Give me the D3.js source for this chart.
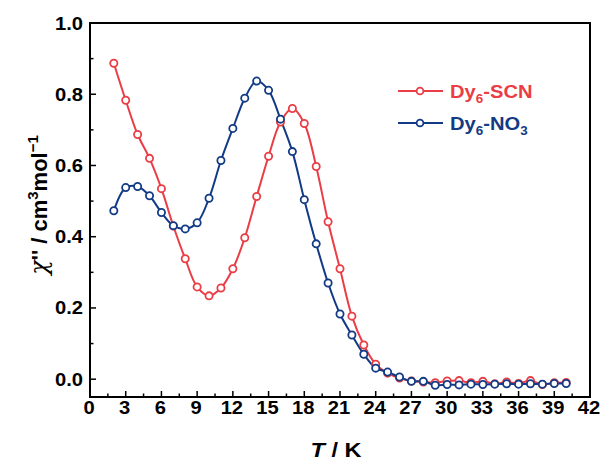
<!DOCTYPE html>
<html><head><meta charset="utf-8">
<script src="https://cdn.jsdelivr.net/npm/d3@7"></script>
<style>body{margin:0;background:#fff}svg{display:block}</style>
</head><body>
<svg id="c" width="603" height="461"></svg>
<script>
const temps = [2,3,4,5,6,7,8,9,10,11,12,13,14,15,16,17,18,19,20,21,22,23,24,25,26,27,28,29,30,31,32,33,34,35,36,37,38,39,40];
const scnValues = [0.887,0.783,0.687,0.620,0.535,0.430,0.338,0.259,0.234,0.256,0.310,0.397,0.513,0.626,0.722,0.760,0.718,0.597,0.442,0.310,0.177,0.096,0.042,0.017,0.003,-0.005,-0.008,-0.010,-0.005,-0.004,-0.010,-0.006,-0.013,-0.008,-0.012,-0.004,-0.015,-0.010,-0.009];
const no3Values = [0.473,0.538,0.541,0.515,0.468,0.431,0.422,0.439,0.508,0.614,0.704,0.789,0.837,0.811,0.730,0.639,0.504,0.380,0.270,0.183,0.124,0.070,0.031,0.020,0.006,-0.006,-0.006,-0.017,-0.015,-0.016,-0.014,-0.015,-0.014,-0.013,-0.014,-0.013,-0.014,-0.012,-0.012];
const xTicks = [0,3,6,9,12,15,18,21,24,27,30,33,36,39,42];
const yTicks = [0.0,0.2,0.4,0.6,0.8,1.0];
const seriesNames = ["Dy6-SCN","Dy6-NO3"];

const red = "#ea3d45", blue = "#123a85";
const svg = d3.select("#c");
const L = 90, R = 590, T = 23, B = 397;
const x = d3.scaleLinear().domain([0,42]).range([L,R]);
const y = d3.scaleLinear().domain([-0.05,1.0]).range([B,T]);
const font = "'Liberation Sans', Arial, sans-serif";
const SX = 1.12;

// minor ticks
const g = svg.append("g");
const xMinor = d3.range(0, 42.01, 1.5);
g.selectAll(".xm").data(xMinor).enter().append("line")
  .attr("x1", d=>x(d)).attr("x2", d=>x(d)).attr("y1", B).attr("y2", d=> (Math.abs(d/3-Math.round(d/3))<1e-6) ? B-6 : B-3.5)
  .attr("stroke","#000").attr("stroke-width",1.5);
const yMinor = d3.range(0, 1.001, 0.1);
g.selectAll(".ym").data(yMinor).enter().append("line")
  .attr("y1", d=>y(d)).attr("y2", d=>y(d)).attr("x1", L).attr("x2", (d,i)=> i%2===0 ? L+6 : L+3.5)
  .attr("stroke","#000").attr("stroke-width",1.5);

// frame
svg.append("rect").attr("x",L).attr("y",T).attr("width",R-L).attr("height",B-T)
  .attr("fill","none").attr("stroke","#000").attr("stroke-width",2);

// tick labels
svg.selectAll(".xl").data(xTicks).enter().append("text")
  .attr("transform", d=>`translate(${x(d)-1},${B+17}) scale(${SX},1)`).attr("text-anchor","middle")
  .attr("font-family",font).attr("font-weight","bold").attr("font-size",18).text(d=>d);
svg.selectAll(".yl").data(yTicks).enter().append("text")
  .attr("transform", d=>`translate(${L-7},${y(d)+6.5}) scale(${SX},1)`).attr("text-anchor","end")
  .attr("font-family",font).attr("font-weight","bold").attr("font-size",18).text(d=>d.toFixed(1));

// axis titles
const xt = svg.append("text").attr("transform",`translate(${(L+R)/2-4},457) scale(${SX},1)`).attr("text-anchor","middle")
  .attr("font-family",font).attr("font-weight","bold").attr("font-size",21);
xt.append("tspan").attr("font-style","italic").text("T");
xt.append("tspan").text(" / K");

const yt = svg.append("text").attr("transform",`translate(47,205) rotate(-90)`).attr("text-anchor","middle")
  .attr("font-family",font).attr("font-weight","bold").attr("font-size",22);
yt.append("tspan").attr("font-style","italic").attr("font-family","'DejaVu Serif', serif").attr("font-weight","normal").attr("font-size",24).text("χ");
yt.append("tspan").text("'' / cm");
yt.append("tspan").attr("font-size",15).attr("dy",-9).text("3");
yt.append("tspan").attr("dy",9).text("mol");
yt.append("tspan").attr("font-size",15).attr("dy",-9).text("\u22121");

// series
const series = [
  {name: seriesNames[0], vals: scnValues, color: red},
  {name: seriesNames[1], vals: no3Values, color: blue}
];
const line = d3.line().curve(d3.curveCatmullRom.alpha(0.5)).x(d=>x(d[0])).y(d=>y(d[1]));
series.forEach(s=>{
  const pts = temps.map((t,i)=>[t, s.vals[i]]);
  svg.append("path").datum(pts).attr("d",line).attr("fill","none").attr("stroke",s.color).attr("stroke-width",2);
});
series.forEach(s=>{
  const pts = temps.map((t,i)=>[t, s.vals[i]]);
  svg.selectAll(null).data(pts).enter().append("circle")
    .attr("cx",d=>x(d[0])).attr("cy",d=>y(d[1])).attr("r",3.6)
    .attr("fill","#fff").attr("stroke",s.color).attr("stroke-width",1.8);
});

// legend
const leg = [{y:91, color:red, main:"Dy", sub:"6", rest:"-SCN"},{y:123, color:blue, main:"Dy", sub:"6", rest:"-NO", sub2:"3"}];
leg.forEach(l=>{
  svg.append("line").attr("x1",398).attr("x2",443).attr("y1",l.y).attr("y2",l.y).attr("stroke",l.color).attr("stroke-width",2);
  svg.append("circle").attr("cx",420).attr("cy",l.y).attr("r",3.4).attr("fill","#fff").attr("stroke",l.color).attr("stroke-width",1.8);
  const t = svg.append("text").attr("transform",`translate(450,${l.y+6.5}) scale(${SX},1)`).attr("fill",l.color)
    .attr("font-family",font).attr("font-weight","bold").attr("font-size",18);
  t.append("tspan").text(l.main);
  t.append("tspan").attr("font-size",12).attr("dy",5).text(l.sub);
  t.append("tspan").attr("dy",-5).text(l.rest);
  if (l.sub2) t.append("tspan").attr("font-size",12).attr("dy",5).text(l.sub2);
});
</script>
</body></html>
